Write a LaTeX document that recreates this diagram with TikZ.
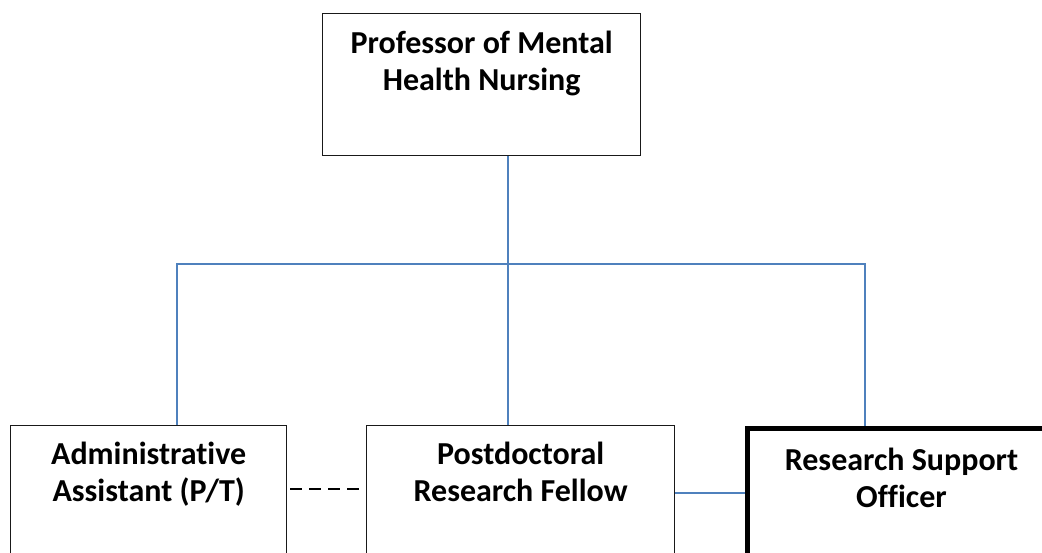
\documentclass[tikz,border=0pt]{standalone}
\usepackage{fontspec}
\setmainfont{Carlito}[RawFeature = {-liga;-clig;-calt;-dlig}]
\usetikzlibrary{positioning}

\definecolor{linkblue}{HTML}{4F81BD}

\tikzset{
  orgbox/.style = {draw = black!90, line width = 1.3pt, anchor = north west,
    inner sep = 0, minimum height = 142pt},
  heavybox/.style = {orgbox, draw = black, line width = 5pt},
  boxtext/.style = {font = \bfseries\fontsize{32}{37}\selectfont,
    align = center, inner sep = 0},
  link/.style = {draw = linkblue, line width = 1.5pt},
  helper/.style = {draw = black, line width = 1.2pt,
    dash pattern = on 12pt off 7pt, dash phase = -3pt}
}

\begin{document}
\begin{tikzpicture}[x = 1pt, y = -1pt]
  \useasboundingbox (0, 0) rectangle (1042, 552);
  \clip (0, 0) rectangle (1042, 552);

  % boxes
  \node[orgbox, minimum width = 318pt] (prof) at (322, 13) {};
  \node[orgbox, minimum width = 276pt] (admin) at (10, 425) {};
  \node[orgbox, minimum width = 308pt] (postdoc) at (366, 425) {};
  \node[heavybox, minimum width = 309pt] (rso) at (744.5, 425.5) {};

  % titles
  \node[boxtext, below = 18pt of prof.north] (proftitle)
  {Professor of Mental\\Health Nursing};
  \node[boxtext, below = 17pt of admin.north] (admintitle)
  {Administrative\\Assistant (P/T)};
  \node[boxtext, below = 17pt of postdoc.north] (postdoctitle)
  {Postdoctoral\\Research Fellow};
  \node[boxtext, below = 22pt of rso.north] (rsotitle)
  {Research Support\\Officer};

  % connectors
  \coordinate (hub) at (508, 264);
  \coordinate (lbend) at (177, 264);
  \coordinate (rbend) at (865, 264);
  \coordinate (dashlevel) at (0, 489);
  \coordinate (sidelevel) at (0, 493);

  \draw[link] (prof.south -| hub) -- (postdoc.north -| hub);
  \draw[link] (admin.north -| lbend) -- (lbend) -- (rbend)
  -- (rso.north -| rbend);
  \draw[helper] (admin.east |- dashlevel) -- (postdoc.west |- dashlevel);
  \draw[link] (postdoc.east |- sidelevel) -- (rso.west |- sidelevel);
\end{tikzpicture}
\end{document}
